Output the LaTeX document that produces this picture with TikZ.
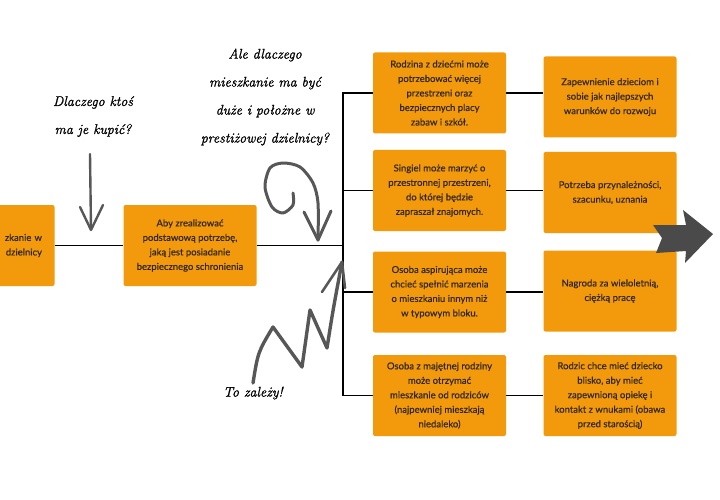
\documentclass[tikz,border=0pt]{standalone}
\usepackage{fontspec}
\newfontfamily\boxfont[FakeBold=0.5]{Lato}
\newfontfamily\handfont[FakeBold=1.2]{Latin Modern Roman}
\definecolor{boxorange}{HTML}{F29A0C}
\definecolor{boxtext}{HTML}{33281F}
\definecolor{pencil}{HTML}{575757}

\tikzset{
  box/.style={fill=boxorange, rounded corners=2pt, minimum width=133pt, minimum height=81pt,
    align=center, text=boxtext, inner sep=2pt, font=\boxfont\fontsize{9.5}{14.5}\selectfont},
  link/.style={draw=black, line width=1.4pt},
  pencil/.style={draw=pencil, line width=2.4pt, line cap=round, line join=round},
  hand/.style={align=center, font=\handfont\itshape\fontsize{14}{28}\selectfont}
}

\begin{document}
\begin{tikzpicture}[x=1pt,y=-1pt]
		\useasboundingbox (0,0) rectangle (720,500);
		\clip (0,0) rectangle (720,500);
		\node[box,text width=108pt,align=right](home) at (-12,245.5) {zkanie w\\dzielnicy};
		\node[box](need) at (190,245.5) {Aby zrealizować\\podstawową potrzebę,\\jaką jest posiadanie\\bezpiecznego schronienia};
		\node[box](family) at (439.5,93) {Rodzina z dziećmi może\\potrzebować więcej\\przestrzeni oraz\\bezpiecznych placy\\zabaw i szkół.};
		\node[box](single) at (439.5,190.5) {Singiel może marzyć o\\przestronnej przestrzeni,\\do której będzie\\zapraszał znajomych.};
		\node[box](dreamer) at (439.5,292) {Osoba aspirująca może\\chcieć spełnić marzenia\\o mieszkaniu innym niż\\w typowym bloku.};
		\node[box](heir) at (439.5,395.5) {Osoba z majętnej rodziny\\może otrzymać\\mieszkanie od rodziców\\(najpewniej mieszkają\\niedaleko)};
		\node[box](care) at (610,97) {Zapewnienie dzieciom i\\sobie jak najlepszych\\warunków do rozwoju};
		\node[box](respect) at (610,192.5) {Potrzeba przynależności,\\szacunku, uznania};
		\node[box](reward) at (610,291) {Nagroda za wieloletnią,\\ciężką pracę};
		\node[box](parent) at (610,395.5) {Rodzic chce mieć dziecko\\blisko, aby mieć\\zapewnioną opiekę i\\kontakt z wnukami (obawa\\przed starością)};
		\coordinate (fork) at (343,245.5);
		\draw[link] (home) -- (need);
		\draw[link] (need) -- (fork);
		\draw[link] (family.west) -| (fork) |- (heir.west);
		\draw[link] (fork |- single.west) -- (single.west);
		\draw[link] (fork |- dreamer.west) -- (dreamer.west);
		\draw[link] (family.east) -- (family.east -| care.west);
		\draw[link] (single.east) -- (single.east -| respect.west);
		\draw[link] (dreamer.east) -- (dreamer.east -| reward.west);
		\draw[link] (heir.east) -- (heir.east -| parent.west);
		% handwritten questions
		\node[hand](whybuy) at (93,116.5) {Dlaczego ktoś\\ma je kupić?};
		\node[hand](whybig) at (265,97) {Ale dlaczego\\mieszkanie ma być\\duże i położne w\\prestiżowej dzielnicy?};
		\node[hand](depends) at (253,393) {To zależy!};
		% pencil arrows
		\draw[pencil] (90,154) -- (91,229);
		\draw[pencil] (80,207) -- (91,230) -- (103,205);
		\draw[pencil,line width=3pt] plot[smooth] coordinates {(293,193) (293,205) (283,213) (272,207) (265,187) (270,168) (283,163) (300,167) (313,183) (318,203) (318,240)};
		\draw[pencil,line width=3pt] (304,212) -- (318,240) -- (331,211);
		\draw[pencil,line width=3.4pt] (253,383) .. controls (258,352) .. (273,327) -- (302,367) -- (310,310) -- (327,348) .. controls (333,310) .. (342,262);
		\draw[pencil,line width=2.6pt] (322,292) -- (342,262) -- (345,288);
		% big arrow on the right
		\fill[pencil!85!black] (653,225) -- (686,225) -- (683,210) -- (713,234) -- (685,263) -- (686,251) -- (656,253) -- (662,238) -- cycle;
\end{tikzpicture}
\end{document}
